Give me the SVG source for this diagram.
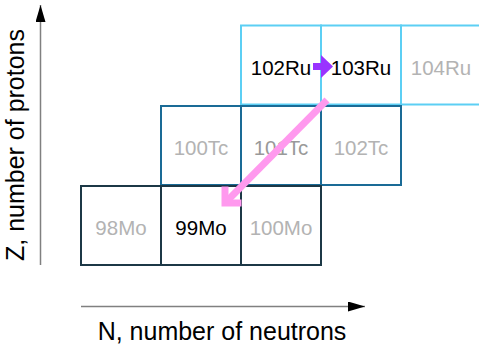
<svg xmlns="http://www.w3.org/2000/svg" width="479" height="344" viewBox="0 0 479 344">
<style>
text{font-family:"Liberation Sans",Arial,sans-serif}
.cell{font-size:20.5px;text-anchor:middle}
.on{fill:#000}
.off{fill:#b3b3b3}
.ru{fill:none;stroke:#5ccff4;stroke-width:2}
.tc{fill:none;stroke:#1a6b96;stroke-width:2}
.mo{fill:none;stroke:#1c3846;stroke-width:2}
.axis{stroke:#808080;stroke-width:1.5;fill:none}
.lbl{font-size:25px;fill:#000}
</style>
<defs>
<marker id="ah" viewBox="0 0 17 10" refX="17" refY="5" markerWidth="17" markerHeight="10" markerUnits="userSpaceOnUse" orient="auto"><path d="M0,0 L17,5 L0,10 Z" fill="#000"/></marker>
</defs>
<rect width="479" height="344" fill="#fff"/>
<g id="n-102Ru"><rect class="ru" x="241" y="25.5" width="80" height="79"/><text class="cell on" x="281" y="75">102Ru</text></g>
<g id="n-103Ru"><rect class="ru" x="321" y="25.5" width="80" height="79"/><text class="cell on" x="361" y="75">103Ru</text></g>
<g id="n-104Ru"><rect class="ru" x="401" y="25.5" width="80" height="79"/><text class="cell off" x="441" y="75">104Ru</text></g>
<g id="n-100Tc"><rect class="tc" x="161" y="106" width="80" height="79"/><text class="cell off" x="201" y="155">100Tc</text></g>
<g id="n-101Tc"><rect class="tc" x="241" y="106" width="80" height="79"/><text class="cell" fill="#999" x="281" y="155">101Tc</text></g>
<g id="n-102Tc"><rect class="tc" x="321" y="106" width="80" height="79"/><text class="cell off" x="361" y="155">102Tc</text></g>
<g id="n-98Mo"><rect class="mo" x="81" y="186" width="80" height="79"/><text class="cell off" x="121" y="235">98Mo</text></g>
<g id="n-99Mo"><rect class="mo" x="161" y="186" width="80" height="79"/><text class="cell on" x="201" y="235">99Mo</text></g>
<g id="n-100Mo"><rect class="mo" x="241" y="186" width="80" height="79"/><text class="cell off" x="281" y="235">100Mo</text></g>
<g id="connectors">
<line class="axis" x1="40.5" y1="265" x2="40.5" y2="5" marker-end="url(#ah)"/>
<line class="axis" x1="81" y1="306.5" x2="365" y2="306.5" marker-end="url(#ah)"/>
<path d="M313,66.5 H322" stroke="#9933ff" stroke-width="7" fill="none"/>
<path d="M321,55 L333,66.5 L321,78 Z" fill="#9933ff"/>
<path d="M327,100 L228,200" stroke="#ff99ee" stroke-width="7" fill="none"/>
<path d="M238,203 H225 V190" stroke="#ff99ee" stroke-width="7" fill="none" stroke-linecap="square"/>
</g>
<g id="labels">
<text class="lbl" transform="translate(24,145) rotate(-90)" text-anchor="middle">Z, number of protons</text>
<text class="lbl" x="222" y="340" text-anchor="middle">N, number of neutrons</text>
</g>
</svg>
